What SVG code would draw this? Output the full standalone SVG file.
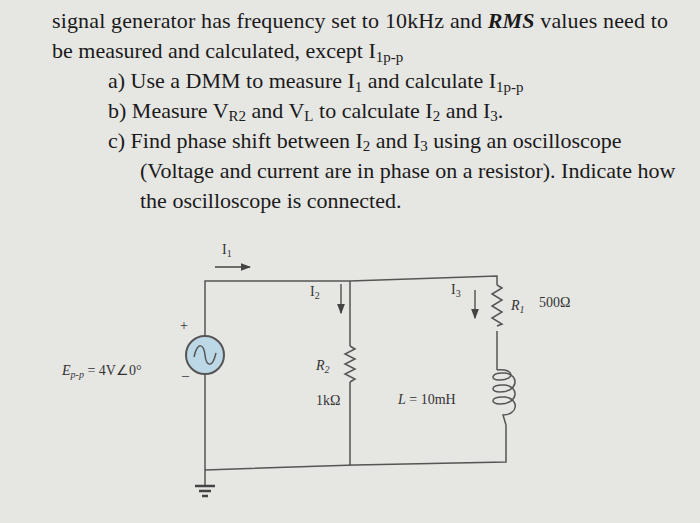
<svg xmlns="http://www.w3.org/2000/svg" width="700" height="523" viewBox="0 0 700 523">
<style>
.t{font-family:"Liberation Serif",serif;font-size:22px;fill:#1a1a1a}
.s{font-family:"Liberation Serif",serif;font-size:14px;fill:#333}
.w{fill:none;stroke:#555;stroke-width:1.5}
</style>
<defs><marker id="a" markerWidth="8" markerHeight="8" refX="7" refY="4" orient="auto"><path d="M0,1 L8,4 L0,7 Z" fill="#444"/></marker></defs>
<rect width="700" height="523" fill="#e6e6e3"/>
<text class="t" x="52" y="28" textLength="616">signal generator has frequency set to 10kHz and <tspan font-weight="bold" font-style="italic">RMS</tspan> values need to</text>
<text class="t" x="52" y="58">be measured and calculated, except I<tspan font-size="15" dy="4">1p-p</tspan></text>
<text class="t" x="108" y="88">a) Use a DMM to measure I<tspan font-size="15" dy="4">1</tspan><tspan dy="-4"> and calculate I</tspan><tspan font-size="15" dy="4">1p-p</tspan></text>
<text class="t" x="108" y="118">b) Measure V<tspan font-size="15" dy="3">R2</tspan><tspan dy="-3"> and V</tspan><tspan font-size="15" dy="3">L</tspan><tspan dy="-3"> to calculate I</tspan><tspan font-size="15" dy="3">2</tspan><tspan dy="-3"> and I</tspan><tspan font-size="15" dy="3">3</tspan><tspan dy="-3">.</tspan></text>
<text class="t" x="108" y="148">c) Find phase shift between I<tspan font-size="15" dy="3">2</tspan><tspan dy="-3"> and I</tspan><tspan font-size="15" dy="3">3</tspan><tspan dy="-3"> using an oscilloscope</tspan></text>
<text class="t" x="140" y="178">(Voltage and current are in phase on a resistor). Indicate how</text>
<text class="t" x="140" y="208">the oscilloscope is connected.</text>
<g id="connectors">
<path class="w" d="M205,335 V281 H350 L497,276 V285 M497,331 V370 M506,425 V462 L355,465 L205,470 V375 M350,281 V346 M350,382 V465 M205,470 V486"/>
<path d="M215,267 H250" stroke="#444" stroke-width="1.3" marker-end="url(#a)"/>
<path d="M341,284 V313" stroke="#444" stroke-width="1.3" marker-end="url(#a)"/>
<path d="M475,290 V318" stroke="#444" stroke-width="1.3" marker-end="url(#a)"/>
</g>
<g id="source"><circle cx="205" cy="355" r="19" fill="#bcd8e6" stroke="#555" stroke-width="2"/>
<path d="M194,357 C198,340 204,345 205,355 C206,365 212,370 216,353" class="w" stroke="#333"/>
<text class="s" x="180" y="330">+</text><text class="s" x="182" y="380">–</text>
<text class="s" x="62" y="375" font-style="italic">E<tspan font-size="10" dy="3">p-p</tspan><tspan dy="-3" font-style="normal"> = 4V∠0°</tspan></text></g>
<g id="ground"><path d="M195,486 H215 M199,491 H211 M202,496 H208" stroke="#444" stroke-width="2.5"/></g>
<g id="R2"><path class="w" d="M350,346 l5,3 -10,5 10,5 -10,5 10,5 -10,5 10,5 -5,3"/>
<text class="s" x="316" y="370" font-style="italic">R<tspan font-size="10" dy="3">2</tspan></text><text class="s" x="316" y="405">1kΩ</text></g>
<g id="R1"><path class="w" d="M497,285 l5,3 -10,6 10,6 -10,6 10,6 -10,6 10,6 -5,2"/>
<text class="s" x="511" y="310" font-style="italic">R<tspan font-size="10" dy="3">1</tspan></text><text class="s" x="539" y="307">500Ω</text></g>
<g id="L"><path class="w" d="M497,370 C515,368 515,380 500,380 C490,381 490,372 505,373 C520,375 518,392 500,392 C490,392 490,384 505,385 C520,387 518,404 500,404 C490,404 490,396 505,397 C520,399 518,415 503,415 L506,425"/>
<text class="s" x="398" y="404"><tspan font-style="italic">L</tspan> = 10mH</text></g>
<text class="s" x="222" y="254">I<tspan font-size="10" dy="3">1</tspan></text>
<text class="s" x="310" y="296">I<tspan font-size="10" dy="3">2</tspan></text>
<text class="s" x="451" y="294">I<tspan font-size="10" dy="3">3</tspan></text>
</svg>
